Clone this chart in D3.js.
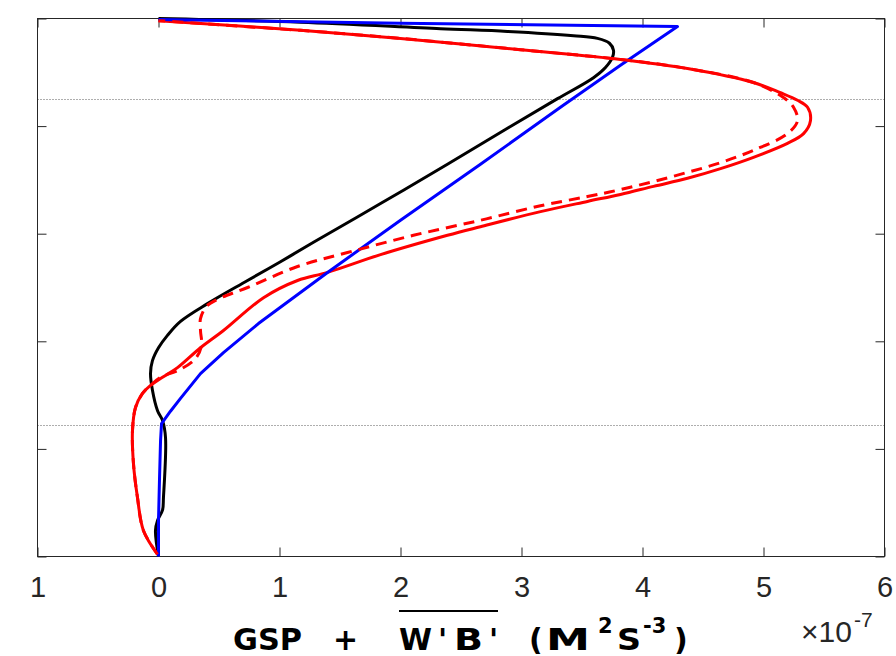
<!DOCTYPE html>
<html>
<head>
<meta charset="utf-8">
<script src="https://cdn.jsdelivr.net/npm/d3@7"></script>
<style>
  html, body { margin: 0; padding: 0; background: #fff; }
  svg { display: block; }
</style>
</head>
<body>
<svg id="chart" width="896" height="656"></svg>
<script>
// Energy production profiles, x in units of 1e-7 m^2 s^-3, y = normalized height (0 bottom, 1 top)
const xTickValues = [-1, 0, 1, 2, 3, 4, 5, 6];
const xTickLabels = ["1", "0", "1", "2", "3", "4", "5", "6"];
const yTickValues = [0, 0.2, 0.4, 0.6, 0.8, 1];
const referenceLevels = [0.2435, 0.851];

// black profile [value, height]
const blackProfile = [
  [0.000, 0.000], [-0.025, 0.048], [-0.008, 0.067], [0.033, 0.086], [0.041, 0.110],
  [0.058, 0.221], [0.033, 0.253], [-0.008, 0.271], [-0.050, 0.309], [-0.066, 0.340],
  [-0.050, 0.364], [0.000, 0.388], [0.074, 0.411], [0.182, 0.437], [0.405, 0.470],
  [0.736, 0.513], [1.008, 0.548], [1.281, 0.584], [1.835, 0.656], [2.388, 0.729],
  [2.884, 0.796], [3.298, 0.851], [3.595, 0.890], [3.694, 0.909], [3.752, 0.928],
  [3.760, 0.941], [3.727, 0.954], [3.628, 0.963], [3.430, 0.968], [2.884, 0.976],
  [2.331, 0.981], [1.174, 0.993], [0.000, 1.000]
];

// blue profile [value, height]
const blueProfile = [
  [0.000, 0.000], [0.000, 0.067], [0.008, 0.141], [0.017, 0.216], [0.025, 0.247],
  [0.099, 0.270], [0.182, 0.294], [0.347, 0.340], [0.537, 0.379], [0.826, 0.433],
  [1.397, 0.528], [2.000, 0.625], [2.661, 0.729], [3.322, 0.835], [3.818, 0.913],
  [4.289, 0.985], [2.000, 0.991], [0.000, 0.998]
];

// red profile (solid) [value, height]
const redProfile = [
  [-0.008, 0.004], [-0.124, 0.048], [-0.174, 0.110], [-0.207, 0.173], [-0.215, 0.234],
  [-0.190, 0.277], [-0.132, 0.303], [-0.066, 0.318], [0.033, 0.333], [0.157, 0.351],
  [0.347, 0.388], [0.537, 0.420], [0.868, 0.481], [1.149, 0.513], [1.397, 0.528],
  [1.835, 0.561], [2.388, 0.597], [2.661, 0.613], [3.157, 0.641], [3.545, 0.660],
  [3.818, 0.673], [4.091, 0.688], [4.372, 0.703], [4.645, 0.721], [4.917, 0.742],
  [5.198, 0.768], [5.331, 0.786], [5.388, 0.810], [5.364, 0.835], [5.281, 0.848],
  [5.140, 0.862], [4.917, 0.881], [4.372, 0.907], [3.818, 0.924], [2.992, 0.942],
  [2.000, 0.963], [1.174, 0.978], [0.000, 0.996]
];

// red profile (dashed) [value, height]
const redDashedProfile = [
  [-0.008, 0.004], [-0.124, 0.048], [-0.174, 0.110], [-0.207, 0.173], [-0.215, 0.234],
  [-0.190, 0.277], [-0.132, 0.303], [-0.066, 0.318], [0.017, 0.333], [0.182, 0.348],
  [0.306, 0.368], [0.355, 0.392], [0.347, 0.420], [0.347, 0.442], [0.397, 0.465],
  [0.488, 0.478], [0.736, 0.500], [1.149, 0.539], [1.562, 0.565], [2.107, 0.597],
  [2.661, 0.625], [3.157, 0.652], [3.545, 0.669], [3.818, 0.682], [4.091, 0.697],
  [4.372, 0.714], [4.645, 0.732], [4.917, 0.755], [5.198, 0.786], [5.281, 0.810],
  [5.248, 0.835], [5.165, 0.853], [4.917, 0.881], [4.372, 0.907], [3.818, 0.924],
  [2.992, 0.942], [2.000, 0.963], [1.174, 0.978], [0.000, 0.996]
];

const svg = d3.select("#chart");
const axisColor = "#262626";

const x = d3.scaleLinear().domain([-1, 6]).range([37.5, 884.5]);
const y = d3.scaleLinear().domain([0, 1]).range([556.5, 18.5]);

// dotted reference levels
svg.append("g")
  .selectAll("line")
  .data(referenceLevels)
  .join("line")
  .attr("x1", x(-1)).attr("x2", x(6))
  .attr("y1", d => Math.round(y(d)) + 0.5).attr("y2", d => Math.round(y(d)) + 0.5)
  .attr("stroke", "#333").attr("stroke-width", 0.8)
  .attr("stroke-dasharray", "1,2");

// axes: ticks point inward, labels only on the bottom
const tickLen = 9;
const axisBottomG = svg.append("g").attr("transform", `translate(0,${y(0)})`)
  .call(d3.axisBottom(x).tickValues(xTickValues).tickSize(-tickLen)
    .tickFormat((d, i) => xTickLabels[i]));
const axisTopG = svg.append("g").attr("transform", `translate(0,${y(1)})`)
  .call(d3.axisTop(x).tickValues(xTickValues).tickSize(-tickLen).tickFormat(""));
const axisLeftG = svg.append("g").attr("transform", `translate(${x(-1)},0)`)
  .call(d3.axisLeft(y).tickValues(yTickValues).tickSize(-tickLen).tickFormat(""));
const axisRightG = svg.append("g").attr("transform", `translate(${x(6)},0)`)
  .call(d3.axisRight(y).tickValues(yTickValues).tickSize(-tickLen).tickFormat(""));

[axisBottomG, axisTopG, axisLeftG, axisRightG].forEach(g => {
  g.select(".domain").remove();
  g.selectAll(".tick line").attr("stroke", axisColor).attr("stroke-width", 1);
});

axisBottomG.selectAll(".tick text")
  .attr("y", 40.5).attr("dy", null)
  .attr("fill", axisColor)
  .attr("font-family", "'Liberation Sans', Arial, sans-serif")
  .attr("font-size", 29);

// plot box
svg.append("rect")
  .attr("x", x(-1)).attr("y", y(1))
  .attr("width", x(6) - x(-1)).attr("height", y(0) - y(1))
  .attr("fill", "none").attr("stroke", axisColor).attr("stroke-width", 1);

// profiles
const smoothLine = d3.line().x(d => x(d[0])).y(d => y(d[1])).curve(d3.curveCatmullRom.alpha(0.5));
// blue profile keeps its sharp corners
const straightLine = d3.line().x(d => x(d[0])).y(d => y(d[1]));

const lw = 3;
svg.append("path").datum(blackProfile).attr("d", smoothLine)
  .attr("fill", "none").attr("stroke", "#000").attr("stroke-width", lw).attr("stroke-linejoin", "round");
svg.append("path").datum(redProfile).attr("d", smoothLine)
  .attr("fill", "none").attr("stroke", "#ff0000").attr("stroke-width", lw).attr("stroke-linejoin", "round");
svg.append("path").datum(blueProfile).attr("d", straightLine)
  .attr("fill", "none").attr("stroke", "#0000ff").attr("stroke-width", lw).attr("stroke-linejoin", "round");
svg.append("path").datum(redDashedProfile).attr("d", smoothLine)
  .attr("fill", "none").attr("stroke", "#ff0000").attr("stroke-width", lw)
  .attr("stroke-dasharray", "11,7");

// exponent marker
const expo = svg.append("text")
  .attr("x", 801).attr("y", 642)
  .attr("fill", axisColor)
  .attr("font-family", "'Liberation Sans', Arial, sans-serif")
  .attr("font-size", 30);
expo.append("tspan").text("\u00d710");
expo.append("tspan").attr("font-size", 21).attr("dy", -15).attr("dx", 2).text("-7");

// x-axis title: GSP + overline(w'b') (m^2 s^-3)
const titleFont = "'DejaVu Sans', sans-serif";
const titleBase = 650;
const titlePieces = [
  { t: "GSP", x: 233, w: 69 },
  { t: "+", x: 333 },
  { t: "W", x: 399, w: 33 },
  { t: "'", x: 438 },
  { t: "B", x: 454, w: 29 },
  { t: "'", x: 489 },
  { t: "(", x: 529 },
  { t: "M", x: 546, w: 44 },
  { t: "2", x: 598, sup: true },
  { t: "S", x: 617, w: 24 },
  { t: "-3", x: 643, sup: true },
  { t: ")", x: 674 }
];
const title = svg.append("g")
  .attr("font-family", titleFont).attr("font-weight", "bold").attr("fill", "#000");
title.selectAll("text")
  .data(titlePieces)
  .join("text")
  .attr("x", d => d.x)
  .attr("y", d => d.sup ? titleBase - 17 : titleBase)
  .attr("font-size", d => d.sup ? 21 : 30)
  .attr("textLength", d => d.w || null)
  .attr("lengthAdjust", d => d.w ? "spacingAndGlyphs" : null)
  .text(d => d.t);

// overbar for the flux term
svg.append("line")
  .attr("x1", 399).attr("x2", 498)
  .attr("y1", 611).attr("y2", 611)
  .attr("stroke", "#000").attr("stroke-width", 2);
</script>
</body>
</html>
